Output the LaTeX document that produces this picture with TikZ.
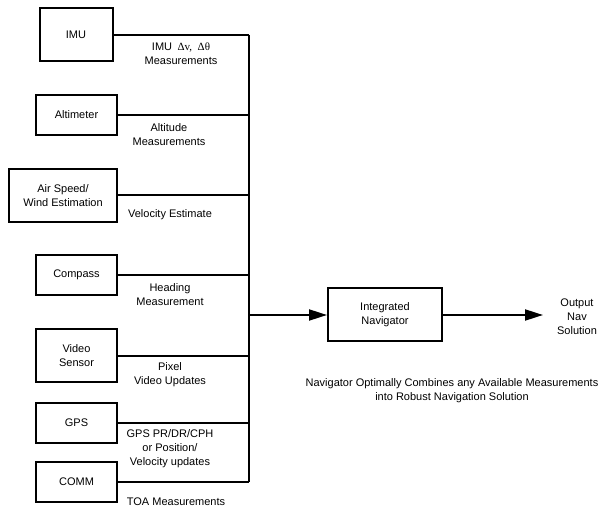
\documentclass[tikz,border=0pt]{standalone}
\usepackage{fontspec}
\setmainfont{Liberation Sans}
\newfontfamily\symbfont{Liberation Serif}
\usepackage{tikz}
\usetikzlibrary{arrows.meta}

\begin{document}
\begin{tikzpicture}[x=1pt,y=-1pt,line width=2pt,>={Triangle[length=18pt,width=11pt]}]
    \tikzstyle{box}=[draw=black, rectangle, inner sep=0pt, minimum width=81pt, minimum height=40pt, align=center, font=\fontsize{11}{14}\selectfont]
    \tikzstyle{tall}=[style=box, minimum height=53pt]
    \tikzstyle{lbl}=[inner sep=0pt, align=center, font=\fontsize{11}{14}\selectfont]

    \useasboundingbox (0,0) rectangle (605,510);

    % sensors
    \node[tall,minimum width=73pt]  (imu)  at (76,35)    {IMU};
    \node[box]                      (alt)  at (76.5,115) {Altimeter};
    \node[tall,minimum width=108pt] (air)  at (63,195.5) {Air Speed/\\Wind Estimation};
    \node[box]                      (cmp)  at (76.5,275) {Compass};
    \node[tall]                     (vid)  at (76.5,356) {Video\\Sensor};
    \node[box]                      (gps)  at (76.5,423) {GPS};
    \node[box]                      (comm) at (76.5,482) {COMM};

    % navigator
    \node[tall,minimum width=114pt] (nav) at (385,315) {Integrated\\Navigator};
    \coordinate (bt) at (249,35);
    \coordinate (bb) at (249,482);
    \coordinate (out) at (543,315);

    % labels
    \node[lbl] (limu)  at (181,54)  {IMU\enspace{\symbfont Δv,\enspace Δθ}\\Measurements};
    \node[lbl] (lalt)  at (169,135) {Altitude\\Measurements};
    \node[lbl] (lair)  at (170,215) {Velocity Estimate};
    \node[lbl] (lcmp)  at (170,295) {Heading\\Measurement};
    \node[lbl] (lvid)  at (170,375) {Pixel\\Video Updates};
    \node[lbl] (lgps)  at (170,449) {GPS PR/DR/CPH\\or Position/\\Velocity updates};
    \node[lbl] (lcomm) at (176,502) {TOA Measurements};
    \node[lbl] (lout)  at (577,317) {Output\\Nav\\Solution};
    \node[lbl] (lnav)  at (452,391) {Navigator Optimally Combines any Available Measurements\\into Robust Navigation Solution};

    \draw (bt) -- (bb);
    \foreach \s in {imu,alt,air,cmp,vid,gps,comm}
      \draw (\s.east) -- (\s.east -| bt);
    \draw[->] (nav.west -| bt) -- (nav.west);
    \draw[->] (nav.east) -- (out);
  \end{tikzpicture}
\end{document}
